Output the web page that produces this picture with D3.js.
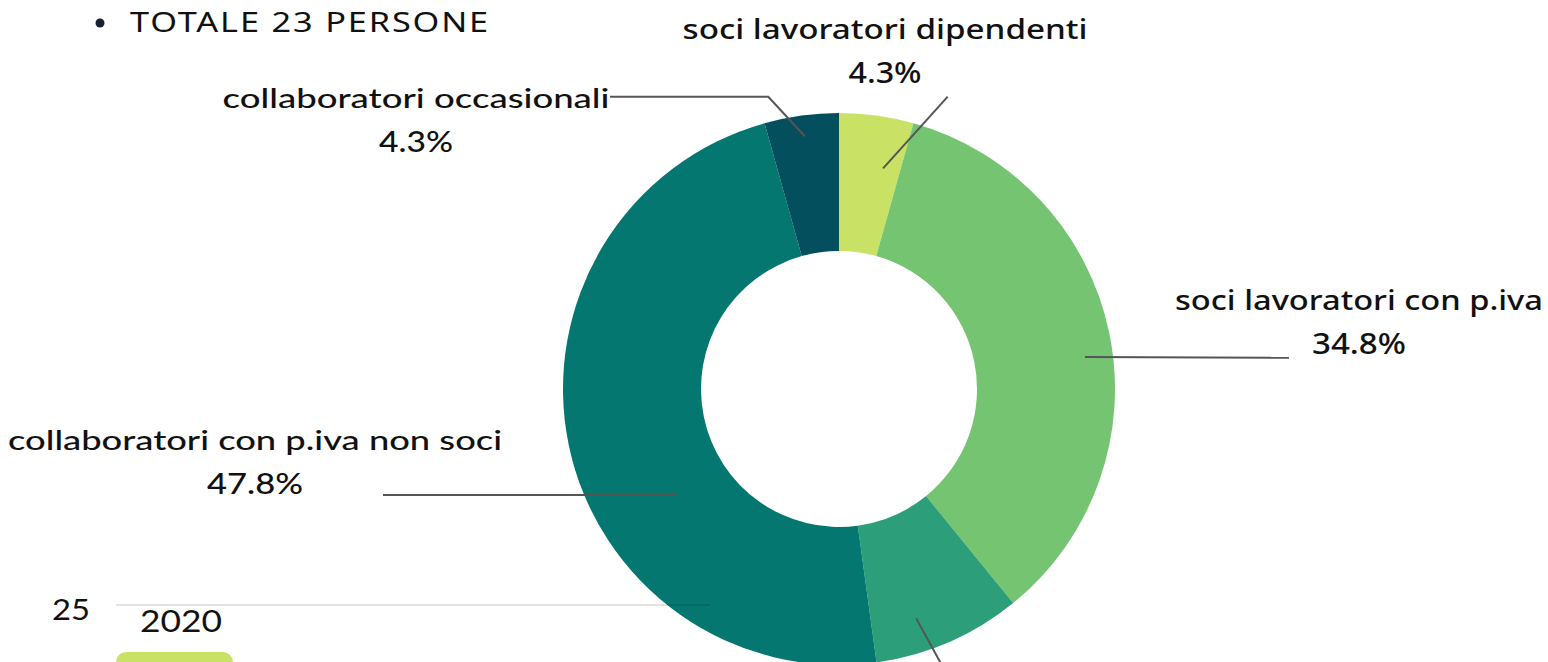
<!DOCTYPE html>
<meta charset="utf-8">
<style>
  body { margin: 0; background: #fff; }
  text { fill: #111; }
</style>
<div id="chart"></div>
<script src="https://cdn.jsdelivr.net/npm/d3@7"></script>
<script>

// data
var categories = ["soci lavoratori dipendenti", "soci lavoratori con p.iva", "soci lavoratori altro",
                  "collaboratori con p.iva non soci", "collaboratori occasionali"];
var counts = [1, 8, 2, 11, 1];
var colors = ["#c9e265", "#75c472", "#2c9f7a", "#047770", "#034f5d"];
var title = "TOTALE 23 PERSONE";
var yTicks = [25];
var years = ["2020"];

var width = 1548, height = 662;
var cx = 839, cy = 389, outerR = 276, innerR = 138;

var svg = d3.select("#chart").append("svg")
    .attr("width", width)
    .attr("height", height);

var total = d3.sum(counts);
var fmt = d3.format(".1%");

var pie = d3.pie().sort(null).value(function(d) { return d; });
var arc = d3.arc().innerRadius(innerR).outerRadius(outerR);
var arcs = pie(counts);

// label layout (leader start angle/radius, leader path, text position)
var layout = [
  {a: 11.3, r: 225, pts: [[947.7, 96.7]], tx: 885, ty: 39, w: 405, pw: 73, font: "Noto Sans"},
  {a: 82.6, r: 248, pts: [[1289, 357.7]], tx: 1359, ty: 310, w: 368, pw: 94, font: "Noto Sans"},
  {a: 161.4, r: 242, pts: [[950, 680]], tx: null},
  {a: 236.9, r: 194, pts: [[383, 495]], tx: 255, ty: 450, w: 494, pw: 96, font: "Lato"},
  {a: 352.3, r: 255, pts: [[768.3, 96.7], [610, 96.7]], tx: 416, ty: 108, w: 387, pw: 74, font: "Lato"}
];

var g = svg.append("g").attr("transform", "translate(" + cx + "," + cy + ")");

g.selectAll("path.slice")
  .data(arcs)
  .enter()
  .append("path")
    .attr("class", "slice")
    .attr("d", arc)
    .attr("fill", function(d, i) { return colors[i]; });

// leader lines + labels
arcs.forEach(function(d, i) {
  var L = layout[i];
  var p0 = d3.pointRadial(L.a * Math.PI / 180, L.r);
  var pts = [[p0[0] + cx, p0[1] + cy]].concat(L.pts);
  svg.append("path")
    .attr("d", d3.line()(pts))
    .attr("fill", "none")
    .attr("stroke", "#555")
    .attr("stroke-width", 2);

  if (L.tx === null) return;
  svg.append("text")
    .attr("x", L.tx)
    .attr("y", L.ty)
    .attr("text-anchor", "middle")
    .attr("font-family", L.font)
    .attr("font-weight", 500)
    .attr("font-size", 27)
    .attr("textLength", L.w)
    .attr("lengthAdjust", "spacingAndGlyphs")
    .text(categories[i]);
  svg.append("text")
    .attr("x", L.tx)
    .attr("y", L.ty + 44)
    .attr("text-anchor", "middle")
    .attr("font-family", L.font)
    .attr("font-weight", 500)
    .attr("font-size", 28)
    .attr("textLength", L.pw)
    .attr("lengthAdjust", "spacingAndGlyphs")
    .text(fmt(counts[i] / total));
});

// title with bullet
svg.append("circle")
  .attr("cx", 100).attr("cy", 23).attr("r", 4.5)
  .attr("fill", "#1b1f33");
svg.append("text")
  .attr("x", 130).attr("y", 32)
  .attr("font-family", "Noto Sans")
  .attr("font-weight", 400)
  .attr("font-size", 28)
  .attr("letter-spacing", 1.5)
  .attr("textLength", 360)
  .attr("lengthAdjust", "spacingAndGlyphs")
  .text(title);

// fragment of the chart below
var y = d3.scaleLinear().domain([0, 25]).range([1200, 605]);
svg.selectAll("line.grid")
  .data(yTicks)
  .enter()
  .append("line")
    .attr("class", "grid")
    .attr("x1", 116).attr("x2", 710)
    .attr("y1", function(d) { return y(d); })
    .attr("y2", function(d) { return y(d); })
    .attr("stroke", "#000")
    .attr("stroke-opacity", 0.22)
    .attr("stroke-width", 1.2);
svg.selectAll("text.tick")
  .data(yTicks)
  .enter()
  .append("text")
    .attr("class", "tick")
    .attr("x", 71).attr("y", function(d) { return y(d) + 15; })
    .attr("text-anchor", "middle")
    .attr("font-family", "Lato")
    .attr("font-weight", 400)
    .attr("font-size", 29)
    .attr("textLength", 38)
    .attr("lengthAdjust", "spacingAndGlyphs")
    .text(function(d) { return d; });
svg.selectAll("text.year")
  .data(years)
  .enter()
  .append("text")
    .attr("class", "year")
    .attr("x", 181).attr("y", 632)
    .attr("text-anchor", "middle")
    .attr("font-family", "Lato")
    .attr("font-weight", 400)
    .attr("font-size", 31)
    .attr("textLength", 82)
    .attr("lengthAdjust", "spacingAndGlyphs")
    .text(function(d) { return d; });
svg.selectAll("rect.bar")
  .data(years)
  .enter()
  .append("rect")
    .attr("class", "bar")
    .attr("x", 116).attr("y", 652)
    .attr("width", 117).attr("height", 40)
    .attr("rx", 10)
    .attr("fill", colors[0]);

</script>
